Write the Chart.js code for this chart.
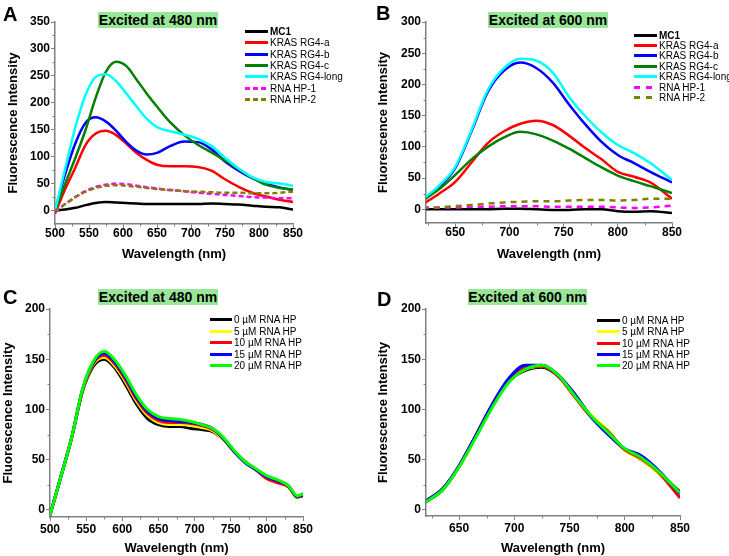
<html>

<head>
    <meta charset="utf-8">

    <title>KRAS RG4 fluorescence spectra</title>

    <style type="text/css">
        body {
            margin: 0;
            background: #fff;
            font-family: "Liberation Sans", Arial, sans-serif;
        }

        .panel {
            position: absolute;
        }

        .letter {
            position: absolute;
            font-size: 20px;
            font-weight: bold;
            line-height: 1;
        }

        .title {
            position: absolute;
            background: #99e699;
            font-size: 14px;
            font-weight: bold;
            line-height: 16px;
            height: 16px;
            text-align: center;
            white-space: nowrap;
        }

        .legend {
            position: absolute;
            font-size: 10px;
        }

        .legend .row {
            display: flex;
            align-items: center;
            white-space: nowrap;
        }

        .legend .swatch {
            height: 3px;
            margin-right: 2px;
        }
    </style>

    <script src="https://cdn.jsdelivr.net/npm/chart.js@4.4.1/dist/chart.umd.min.js"></script>
</head>

<body>
<div class="panel" style="left:0;top:0"><canvas id="chartA" width="365" height="280"></canvas></div>
<div class="panel" style="left:365px;top:0"><canvas id="chartB" width="364" height="280"></canvas></div>
<div class="panel" style="left:0;top:280px"><canvas id="chartC" width="365" height="276"></canvas></div>
<div class="panel" style="left:365px;top:280px"><canvas id="chartD" width="364" height="276"></canvas></div>

<div class="letter" style="left:3px;top:4px">A</div>
<div class="letter" style="left:376px;top:3px">B</div>
<div class="letter" style="left:3px;top:287px">C</div>
<div class="letter" style="left:377px;top:289px">D</div>

<div class="title" style="left:98px;top:12px;width:120px">Excited at 480 nm</div>
<div class="title" style="left:488px;top:12px;width:120px">Excited at 600 nm</div>
<div class="title" style="left:98px;top:289px;width:120px">Excited at 480 nm</div>
<div class="title" style="left:468px;top:289px;width:119px">Excited at 600 nm</div>

<div class="legend" id="legendA" style="left:245px;top:26px"></div>
<div class="legend" id="legendB" style="left:634px;top:30px"></div>
<div class="legend" id="legendC" style="left:210px;top:314px"></div>
<div class="legend" id="legendD" style="left:597px;top:315px"></div>

<script>
        // ---- panel A: excited at 480 nm ----
        var wavelengthA = [500, 515, 530, 545, 560, 575, 590, 605, 620, 635, 650, 670, 690, 710, 730, 750, 770, 790, 810, 830, 850];
        var mc1A     = [0, 2, 5, 10, 14, 16, 15, 14, 13, 12, 12, 12, 12, 12, 13, 12, 11, 9, 7, 6, 2];
        var rg4aA    = [-6, 40, 80, 122, 143, 148, 140, 124, 107, 94, 85, 82, 82, 81, 74, 58, 44, 33, 26, 20, 16];
        var rg4bA    = [0, 68, 125, 163, 173, 165, 148, 127, 111, 104, 107, 120, 128, 127, 114, 91, 74, 60, 50, 43, 38];
        var rg4cA    = [0, 50, 98, 150, 210, 258, 276, 268, 243, 217, 193, 163, 140, 122, 108, 93, 77, 61, 48, 42, 39];
        var rg4longA = [0, 78, 155, 215, 248, 253, 240, 217, 193, 170, 155, 147, 141, 133, 120, 98, 78, 62, 53, 50, 46];
        var hp1A     = [-3, 12, 25, 36, 44, 48, 50, 49, 46, 43, 41, 38, 36, 33, 31, 29, 27, 25, 24, 23, 23];
        var hp2A     = [0, 12, 25, 35, 42, 46, 47, 46, 44, 42, 40, 38, 36, 35, 34, 33, 33, 32, 32, 33, 35];

        // ---- panel B: excited at 600 nm ----
        var wavelengthB = [620, 635, 650, 665, 680, 695, 710, 725, 740, 755, 770, 785, 800, 815, 830, 850];
        var mc1B     = [0, 0, 0, 0, 0, 1, 1, 0, -1, -1, 0, 0, -3, -4, -3, -6];
        var rg4aB    = [8, 25, 44, 75, 106, 125, 137, 142, 135, 118, 98, 80, 60, 52, 43, 17];
        var rg4bB    = [14, 36, 66, 125, 188, 222, 235, 226, 203, 168, 136, 108, 87, 74, 60, 43];
        var rg4cB    = [14, 32, 55, 80, 100, 115, 124, 120, 110, 97, 82, 67, 54, 45, 37, 26];
        var rg4longB = [16, 38, 68, 127, 191, 226, 241, 238, 219, 180, 149, 123, 103, 90, 74, 47];
        var hp1B     = [3, 3, 3, 4, 4, 5, 5, 5, 4, 4, 4, 4, 3, 2, 3, 6];
        var hp2B     = [2, 3, 5, 7, 9, 11, 12, 13, 13, 14, 15, 15, 14, 15, 17, 17];

        var namesAB = ['MC1', 'KRAS RG4-a', 'KRAS RG4-b', 'KRAS RG4-c', 'KRAS RG4-long', 'RNA HP-1', 'RNA HP-2'];
        var coloursAB = ['#000000', '#ff0000', '#0000ff', '#008000', '#00ffff', '#ff00ff', '#808000'];
        var dashedAB = [false, false, false, false, false, true, true];

        // ---- panel C: excited at 480 nm, RNA HP titration ----
        var wavelengthC = [500, 515, 530, 545, 560, 575, 590, 605, 620, 635, 650, 665, 680, 695, 710, 725, 740, 755, 770, 785, 800, 815, 830, 842, 850];
        var hp0C  = [-5, 33, 72, 118, 143, 150, 141, 124, 105, 91, 85, 83, 83, 81, 80, 78, 70, 58, 48, 40, 33, 29, 23, 13, 16];
        var hp5C  = [-5, 33, 72, 119, 145, 152, 143, 127, 108, 94, 87, 85, 85, 84, 82, 79, 70, 58, 48, 40, 33, 28, 23, 12, 14];
        var hp10C = [-5, 33, 72, 119, 146, 154, 145, 129, 110, 96, 89, 87, 87, 86, 84, 80, 71, 58, 48, 40, 31, 27, 23, 13, 14];
        var hp15C = [-5, 33, 72, 120, 147, 156, 147, 131, 112, 98, 91, 89, 88, 87, 85, 81, 71, 58, 47, 40, 33, 29, 24, 13, 15];
        var hp20C = [-5, 33, 72, 120, 148, 158, 149, 133, 114, 100, 93, 91, 90, 88, 85, 81, 72, 59, 48, 41, 34, 30, 24, 14, 16];

        // ---- panel D: excited at 600 nm, RNA HP titration ----
        var wavelengthD = [620, 635, 650, 665, 680, 695, 710, 725, 740, 755, 770, 785, 800, 815, 830, 850];
        var hp0D  = [8, 20, 43, 73, 103, 128, 139, 142, 133, 113, 93, 76, 60, 50, 38, 18];
        var hp5D  = [9, 21, 43, 73, 103, 128, 140, 143, 134, 112, 94, 79, 59, 50, 37, 16];
        var hp10D = [9, 21, 44, 74, 105, 130, 142, 143, 133, 112, 92, 78, 60, 51, 38, 12];
        var hp15D = [9, 21, 44, 74, 105, 131, 144, 144, 134, 115, 92, 75, 61, 54, 40, 16];
        var hp20D = [8, 20, 43, 72, 102, 127, 140, 144, 134, 113, 93, 77, 61, 52, 39, 17];

        var namesCD = ['0 µM RNA HP', '5 µM RNA HP', '10 µM RNA HP', '15 µM RNA HP', '20 µM RNA HP'];
        var coloursCD = ['#000000', '#ffff00', '#ff0000', '#0000ff', '#00ff00'];

        // tick labels
        var xTicks480 = [500, 550, 600, 650, 700, 750, 800, 850];
        var xTicks600 = [650, 700, 750, 800, 850];
        var yTicksA = [0, 50, 100, 150, 200, 250, 300, 350];
        var yTicksB = [0, 50, 100, 150, 200, 250, 300];
        var yTicksCD = [0, 50, 100, 150, 200];

        var axisGray = '#808080';

        Chart.defaults.font.family = '"Liberation Sans", Arial, sans-serif';
        Chart.defaults.color = '#000';

        // short ticks half way between the labelled ones
        var minorTicks = {
            id: 'minorTicks',
            afterDraw: function(chart) {
                var ctx = chart.ctx;
                ctx.save();
                ctx.strokeStyle = axisGray;
                ctx.lineWidth = 1;
                ['x', 'y'].forEach(function(id) {
                    var s = chart.scales[id];
                    var vals = s.ticks.map(function(t) { return t.value; });
                    var step = vals[1] - vals[0];
                    for (var v = vals[0] - step / 2; v < s.max; v += step) {
                        if (v <= s.min) continue;
                        var p = Math.round(s.getPixelForValue(v)) + 0.5;
                        ctx.beginPath();
                        if (id === 'x') {
                            ctx.moveTo(p, s.top);
                            ctx.lineTo(p, s.top + 2.5);
                        } else {
                            ctx.moveTo(s.right, p);
                            ctx.lineTo(s.right - 2.5, p);
                        }
                        ctx.stroke();
                    }
                });
                ctx.restore();
            }
        };

        function scaleOptions(min, max, majors, titleText, boxSize, titlePadding, tickPad) {
            return {
                type: 'linear',
                min: min,
                max: max,
                afterBuildTicks: function(scale) {
                    scale.ticks = majors.map(function(v) { return {value: v}; });
                },
                afterFit: function(scale) {
                    if (scale.isHorizontal()) {
                        scale.height = boxSize;
                    } else {
                        scale.width = boxSize;
                    }
                },
                ticks: {
                    font: {size: 12, weight: 'bold'},
                    color: '#000',
                    padding: tickPad,
                    maxRotation: 0,
                    autoSkip: false
                },
                grid: {
                    drawOnChartArea: false,
                    drawTicks: true,
                    tickLength: 4,
                    tickColor: axisGray,
                    tickWidth: 1
                },
                border: {display: true, color: axisGray, width: 1.5},
                title: {
                    display: true,
                    text: titleText,
                    font: {size: 13, weight: 'bold'},
                    color: '#000',
                    padding: titlePadding
                }
            };
        }

        function buildDatasets(xs, seriesList, names, colours, dashed, width, dash) {
            return seriesList.map(function(vals, i) {
                return {
                    label: names[i],
                    data: xs.map(function(x, j) { return {x: x, y: vals[j]}; }),
                    borderColor: colours[i],
                    backgroundColor: colours[i],
                    borderWidth: width,
                    borderDash: dashed && dashed[i] ? dash : [],
                    pointRadius: 0,
                    cubicInterpolationMode: 'monotone',
                    fill: false,
                    order: seriesList.length - i
                };
            });
        }

        function drawPanel(id, datasets, cfg) {
            var ctx = document.getElementById(id).getContext('2d');
            return new Chart(ctx, {
                type: 'line',
                data: {datasets: datasets},
                options: {
                    responsive: false,
                    animation: false,
                    layout: {padding: {top: cfg.top, right: cfg.right, left: 0, bottom: 0}},
                    plugins: {legend: {display: false}, tooltip: {enabled: false}},
                    scales: {
                        x: scaleOptions(cfg.xMin, cfg.xMax, cfg.xTicks, 'Wavelength (nm)', cfg.xHeight,
                            {top: 0, bottom: cfg.xTitlePad}, cfg.xTickPad),
                        y: scaleOptions(cfg.yMin, cfg.yMax, cfg.yTicks, 'Fluorescence Intensity', cfg.yWidth,
                            {top: cfg.yTitlePad, bottom: 0}, 1)
                    }
                },
                plugins: [minorTicks]
            });
        }

        function buildLegend(id, names, colours, dashed, rowHeight, swatchWidth, dash) {
            var box = document.getElementById(id);
            names.forEach(function(name, i) {
                var row = document.createElement('div');
                row.className = 'row';
                row.style.height = rowHeight + 'px';
                var sw = document.createElement('div');
                sw.className = 'swatch';
                sw.style.width = swatchWidth + 'px';
                if (dashed && dashed[i]) {
                    sw.style.background = 'repeating-linear-gradient(to right, ' + colours[i] + ' 0 ' + dash[0] + 'px, transparent ' +
                        dash[0] + 'px ' + (dash[0] + dash[1]) + 'px)';
                } else {
                    sw.style.background = colours[i];
                }
                var txt = document.createElement('span');
                txt.textContent = name;
                if (name === 'MC1') txt.style.fontWeight = 'bold';
                row.appendChild(sw);
                row.appendChild(txt);
                box.appendChild(row);
            });
        }

        drawPanel('chartA',
            buildDatasets(wavelengthA, [mc1A, rg4aA, rg4bA, rg4cA, rg4longA, hp1A, hp2A], namesAB, coloursAB, dashedAB, 2.5, [5, 3]),
            {top: 22, right: 72, xMin: 500, xMax: 850, yMin: -25, yMax: 350, xTicks: xTicks480, yTicks: yTicksA,
             xHeight: 56, yWidth: 55, xTitlePad: 18, yTitlePad: 6, xTickPad: -2});

        drawPanel('chartB',
            buildDatasets(wavelengthB, [mc1B, rg4aB, rg4bB, rg4cB, rg4longB, hp1B, hp2B], namesAB, coloursAB, dashedAB, 2.5, [6, 5]),
            {top: 22, right: 57, xMin: 623, xMax: 850, yMin: -22, yMax: 300, xTicks: xTicks600, yTicks: yTicksB,
             xHeight: 57, yWidth: 61, xTitlePad: 18, yTitlePad: 11, xTickPad: -2});

        drawPanel('chartC',
            buildDatasets(wavelengthC, [hp0C, hp5C, hp10C, hp15C, hp20C], namesCD, coloursCD, null, 3, []),
            {top: 29, right: 62, xMin: 500, xMax: 850, yMin: -7, yMax: 200, xTicks: xTicks480, yTicks: yTicksCD,
             xHeight: 39, yWidth: 50, xTitlePad: 0, yTitlePad: 1, xTickPad: 1});

        drawPanel('chartD',
            buildDatasets(wavelengthD, [hp0D, hp5D, hp10D, hp15D, hp20D], namesCD, coloursCD, null, 3, []),
            {top: 29, right: 49, xMin: 620, xMax: 850, yMin: -6, yMax: 200, xTicks: xTicks600, yTicks: yTicksCD,
             xHeight: 40, yWidth: 61, xTitlePad: 0, yTitlePad: 11, xTickPad: 1});

        buildLegend('legendA', namesAB, coloursAB, dashedAB, 11.3, 23, [5, 3]);
        buildLegend('legendB', namesAB, coloursAB, dashedAB, 10.4, 23, [6, 6]);
        buildLegend('legendC', namesCD, coloursCD, null, 11.5, 22, []);
        buildLegend('legendD', namesCD, coloursCD, null, 11.25, 23, []);

</script>
</body>

</html>
